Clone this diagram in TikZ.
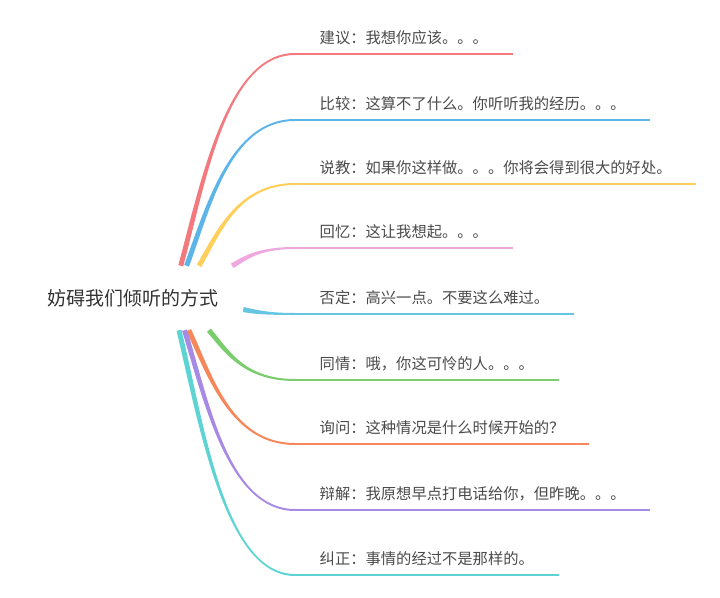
\documentclass[tikz,border=0pt]{standalone}
\usepackage{fontspec}
\newfontfamily\cjk{Noto Sans CJK SC}
\usetikzlibrary{calc}
\definecolor{br1}{HTML}{F27A7E}
\definecolor{br2}{HTML}{5DB4E8}
\definecolor{br3}{HTML}{FFCF5C}
\definecolor{br4}{HTML}{EEA8DE}
\definecolor{br5}{HTML}{66C5E3}
\definecolor{br6}{HTML}{7ACC6C}
\definecolor{br7}{HTML}{F6875A}
\definecolor{br8}{HTML}{A68AE5}
\definecolor{br9}{HTML}{5DD3D3}
\definecolor{txtgray}{HTML}{4A4A4A}
\definecolor{rootgray}{HTML}{333333}
\newcommand{\twig}[3]{%
  \fill[#3] let \p1=(#1), \p2=(#2),
    \n1={atan2(0.4*(\y2-\y1),0.2*(\x2-\x1))} in
    ({\x1-2.5*sin(\n1)},{\y1+2.5*cos(\n1)})
    .. controls ({\x1+0.2*(\x2-\x1)-2.5*sin(\n1)},{\y1+0.4*(\y2-\y1)+2.5*cos(\n1)})
    and ({\x2-0.6*(\x2-\x1)},{\y2+1}) .. ({\x2},{\y2+1})
    -- ({\x2},{\y2-1})
    .. controls ({\x2-0.6*(\x2-\x1)},{\y2-1})
    and ({\x1+0.2*(\x2-\x1)+2.5*sin(\n1)},{\y1+0.4*(\y2-\y1)-2.5*cos(\n1)})
    .. ({\x1+2.5*sin(\n1)},{\y1-2.5*cos(\n1)}) -- cycle;}
\begin{document}
\begin{tikzpicture}[x=1pt, y=1pt,
    leaf/.style={anchor=south west, text=txtgray, inner xsep=24.5pt, inner ysep=7pt,
      text height=11pt, text depth=3pt, font=\cjk\fontsize{15.3}{18}\selectfont},
    uline/.style={line width=2pt}]
        \useasboundingbox (0,0) rectangle (720,597);
        \node[minimum width=220pt, minimum height=64pt, inner sep=0pt, text=rootgray,
          font=\cjk\fontsize{19}{22}\selectfont] (root) at (133,299) {妨碍我们倾听的方式};
        \node[leaf] (advice) at (295,543) {建议：我想你应该。。。};
        \node[leaf] (compare) at (295,477) {比较：这算不了什么。你听听我的经历。。。};
        \node[leaf] (preach) at (295,413) {说教：如果你这样做。。。你将会得到很大的好处。};
        \node[leaf] (recall) at (295,349) {回忆：这让我想起。。。};
        \node[leaf] (deny) at (295,283) {否定：高兴一点。不要这么难过。};
        \node[leaf] (pity) at (295,217) {同情：哦，你这可怜的人。。。};
        \node[leaf] (ask) at (295,153) {询问：这种情况是什么时候开始的？};
        \node[leaf] (excuse) at (295,87) {辩解：我原想早点打电话给你，但昨晚。。。};
        \node[leaf] (correct) at (295,22) {纠正：事情的经过不是那样的。};
        \draw[br1, uline] (advice.south west) -- (advice.south east);
        \draw[br2, uline] (compare.south west) -- (compare.south east);
        \draw[br3, uline] (preach.south west) -- (preach.south east);
        \draw[br4, uline] (recall.south west) -- (recall.south east);
        \draw[br5, uline] (deny.south west) -- (deny.south east);
        \draw[br6, uline] (pity.south west) -- (pity.south east);
        \draw[br7, uline] (ask.south west) -- (ask.south east);
        \draw[br8, uline] (excuse.south west) -- (excuse.south east);
        \draw[br9, uline] (correct.south west) -- (correct.south east);
        \twig{root.34}{advice.south west}{br1}
        \twig{root.31.6}{compare.south west}{br2}
        \twig{root.26.6}{preach.south west}{br3}
        \twig{root.18.6}{recall.south west}{br4}
        \twig{root.-6.2}{deny.south west}{br5}
        \twig{root.-23.4}{pity.south west}{br6}
        \twig{root.-30.2}{ask.south west}{br7}
        \twig{root.-32.6}{excuse.south west}{br8}
        \twig{root.-35.4}{correct.south west}{br9}
    \end{tikzpicture}
\end{document}
